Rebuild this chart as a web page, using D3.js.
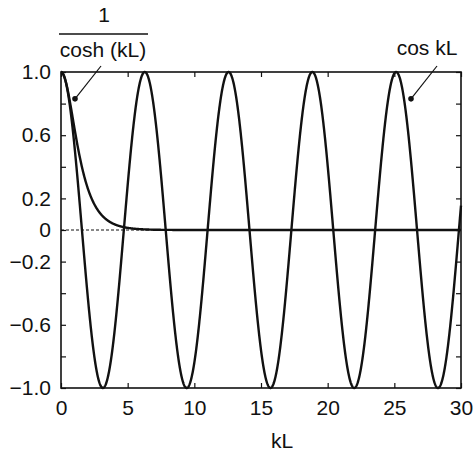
<!DOCTYPE html>
<html>
<head>
<meta charset="utf-8">
<script src="https://cdn.jsdelivr.net/npm/d3@7"></script>
<style>
  html, body { margin: 0; padding: 0; background: #fff; }
  svg { display: block; }
  text { font-family: "Liberation Sans", Arial, Helvetica, sans-serif; fill: #111; }
</style>
</head>
<body>
<svg id="chart" width="476" height="454"></svg>
<script>
// Axis domains and ticks
const xDomain = [0, 30];
const yDomain = [-1, 1];
const xTicks = [0, 5, 10, 15, 20, 25, 30];
const xTickLabels = ["0", "5", "10", "15", "20", "25", "30"];
const yTicks = [1.0, 0.8, 0.6, 0.4, 0.2, 0, -0.2, -0.4, -0.6, -0.8, -1.0];
const yTickLabels = ["1.0", "", "0.6", "", "0.2", "0", "\u22120.2", "", "\u22120.6", "", "\u22121.0"];

// The two curves, named by their labels
const curveNames = ["1/cosh (kL)", "cos kL"];
const curveFns = [kL => 1 / Math.cosh(kL), kL => Math.cos(kL)];
const sampleStep = 0.02;

// Leader-line end points (kL, value), placed just beside each curve
const annotKL = [1.05, 26.25];
const annotValue = [0.83, 0.83];

const margin = { left: 61, right: 15, top: 72, bottom: 66 };
const W = 476, H = 454;
const svg = d3.select("#chart");

const x = d3.scaleLinear().domain(xDomain).range([margin.left, W - margin.right]);
const y = d3.scaleLinear().domain(yDomain).range([H - margin.bottom, margin.top]);

const FS = 21;

// Zero reference line (dashed)
svg.append("line")
  .attr("x1", x(0)).attr("x2", x(30))
  .attr("y1", y(0)).attr("y2", y(0))
  .attr("stroke", "#111").attr("stroke-width", 1)
  .attr("stroke-dasharray", "3,2");

// Curves
const samples = d3.range(xDomain[0], xDomain[1] + sampleStep / 2, sampleStep);
const line = d3.line().x(d => x(d[0])).y(d => y(d[1]));
curveFns.forEach((fn, i) => {
  svg.append("path")
    .datum(samples.map(k => [k, fn(k)]))
    .attr("d", line)
    .attr("fill", "none")
    .attr("stroke", "#111")
    .attr("stroke-width", 2.4)
    .attr("stroke-linejoin", "round");
});

// Axes: ticks pointing inward on all four sides
const tickLen = 5;
const axisG = svg.append("g");
axisG.append("g").attr("transform", `translate(0,${y(-1)})`)
  .call(d3.axisBottom(x).tickValues(xTicks).tickSize(-tickLen).tickPadding(12)
    .tickFormat((d, i) => xTickLabels[i]));
axisG.append("g").attr("transform", `translate(0,${y(1)})`)
  .call(d3.axisTop(x).tickValues(xTicks).tickSize(-tickLen).tickFormat(""));
axisG.append("g").attr("transform", `translate(${x(0)},0)`)
  .call(d3.axisLeft(y).tickValues(yTicks).tickSize(-tickLen).tickPadding(10)
    .tickFormat((d, i) => yTickLabels[i]));
axisG.append("g").attr("transform", `translate(${x(30)},0)`)
  .call(d3.axisRight(y).tickValues(yTicks).tickSize(-tickLen).tickFormat(""));
axisG.selectAll(".domain").remove();
axisG.selectAll(".tick line").attr("stroke", "#111").attr("stroke-width", 1.2);
axisG.selectAll(".tick text")
  .attr("font-size", FS)
  .style("font-family", "'Liberation Sans', Arial, sans-serif")
  .attr("fill", "#111");

// Frame
svg.append("rect")
  .attr("x", x(0)).attr("y", y(1))
  .attr("width", x(30) - x(0)).attr("height", y(-1) - y(1))
  .attr("fill", "none").attr("stroke", "#111").attr("stroke-width", 1.6);

// x-axis title
svg.append("text")
  .attr("x", 282).attr("y", 448)
  .attr("text-anchor", "middle").attr("font-size", FS)
  .text("kL");

// Label for 1/cosh(kL), drawn as a fraction
const frac = svg.append("g");
frac.append("text").attr("x", 104).attr("y", 22)
  .attr("text-anchor", "middle").attr("font-size", FS).text("1");
frac.append("line")
  .attr("x1", 59).attr("x2", 148).attr("y1", 34).attr("y2", 34)
  .attr("stroke", "#111").attr("stroke-width", 1.3);
frac.append("text").attr("x", 103).attr("y", 57)
  .attr("text-anchor", "middle").attr("font-size", FS).text("cosh (kL)");

// Label for cos kL
svg.append("text").attr("x", 427).attr("y", 55)
  .attr("text-anchor", "middle").attr("font-size", FS).text("cos kL");

// Leader lines with dots beside the curves
const leaderStarts = [[101, 66], [437, 66]];
leaderStarts.forEach((from, i) => {
  const px = x(annotKL[i]), py = y(annotValue[i]);
  svg.append("line")
    .attr("x1", from[0]).attr("y1", from[1])
    .attr("x2", px).attr("y2", py)
    .attr("stroke", "#111").attr("stroke-width", 1.2);
  svg.append("circle").attr("cx", px).attr("cy", py).attr("r", 2.8).attr("fill", "#111");
});
</script>
</body>
</html>
